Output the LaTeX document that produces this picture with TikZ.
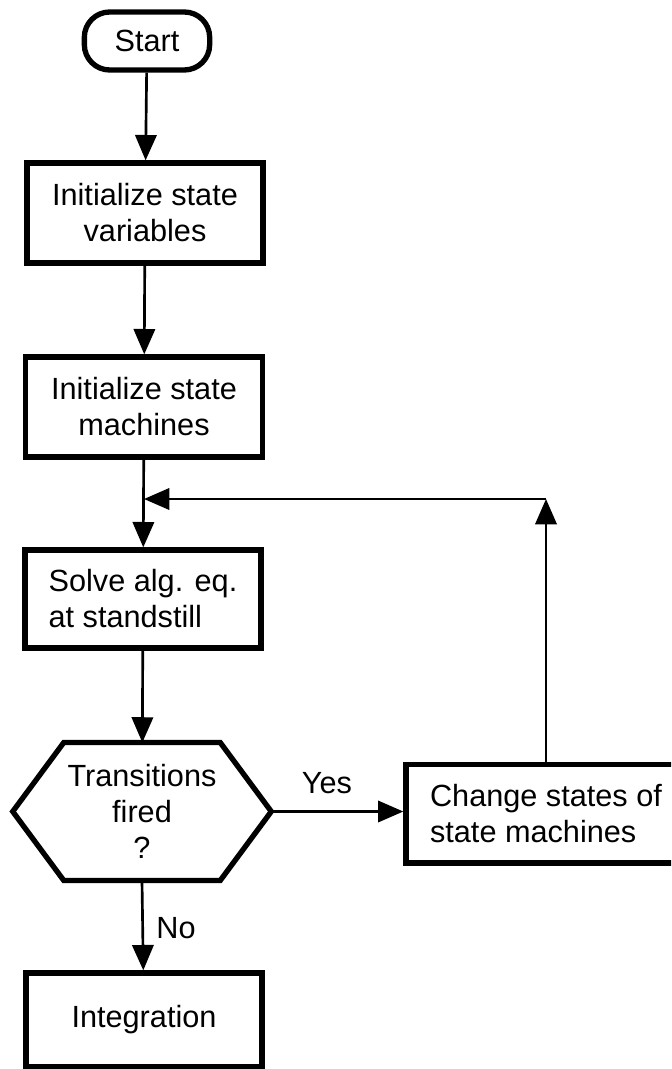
\documentclass[tikz,border=0pt]{standalone}
\usepackage{fontspec}
\setmainfont{Liberation Sans}
\usetikzlibrary{arrows.meta,calc}

\tikzset{
  flow/.style={line width=2pt,-{Triangle[length=19pt,width=16pt]}},
  frame/.style={line width=4pt},
  procbox/.style={frame,draw,minimum width=177pt,minimum height=75pt,inner sep=0pt,align=center,font=\fontsize{23}{27}\selectfont},
  termbox/.style={frame,draw,rounded corners=19pt,minimum width=94pt,minimum height=43.5pt,inner sep=0pt,font=\fontsize{23}{27}\selectfont},
  lbl/.style={inner sep=0pt,font=\fontsize{23}{27}\selectfont}
}

\begin{document}
\begin{tikzpicture}[x=0.75pt,y=0.75pt,yscale=-1,xscale=1]
%set diagram to 671 x 1069, the change box runs off the right side
\clip (0,0) rectangle (671,1069);
\fill[white] (0,0) rectangle (671,1069);
%Shape: Rounded Rect [id:start]
\node[termbox] (start) at (147,41) {Start};
%Shape: Rectangle [id:init1]
\node[procbox] (initvar) at (145,213) {Initialize state\\variables};
%Shape: Rectangle [id:init2]
\node[procbox,minimum width=178pt] (initsm) at (144,407) {Initialize state\\machines};
%Shape: Rectangle [id:solve]
\node[procbox,minimum height=73.5pt,align=left] (solve) at (143,599) {Solve alg. eq.\\at standstill};
%Shape: Hexagon [id:fired]
\node[lbl,minimum width=117pt,minimum height=103pt,align=center] (fired) at (142,811.5) {Transitions\\fired\\?};
\coordinate (firedR) at ($(fired.east)+(51,0)$);
\coordinate (firedL) at ($(fired.west)+(-51,0)$);
\draw[frame] (fired.north west) -- (fired.north east) -- (firedR) -- (fired.south east) -- (fired.south west) -- (firedL) -- cycle ;
%Shape: Rectangle [id:change]
\node[procbox,minimum width=210pt,minimum height=74pt,align=left] (chg) at (546,813.5) {Change states of\\state machines};
%Shape: Rectangle [id:integ]
\node[procbox,minimum height=70.5pt] (integ) at (144,1020) {Integration};
%Straight Lines
\draw[flow] (start) -- (initvar);
\draw[flow] (initvar) -- (initsm);
\draw[flow] (initsm) -- (solve);
\draw[flow] (solve) -- (fired);
\draw[flow] (firedR) -- (firedR -| chg.west);
\draw[flow] (fired.south) -- (integ);
%Straight Lines: loop back
\coordinate (corner) at (546,499);
\coordinate (merge) at (144,499);
\draw[flow] (chg.north) -- (corner);
\draw[flow] (corner) -- (merge);
% Text Node
\node[lbl] (yes) at (327,783) {Yes};
% Text Node
\node[lbl] (no) at (176,928) {No};
\end{tikzpicture}
\end{document}
